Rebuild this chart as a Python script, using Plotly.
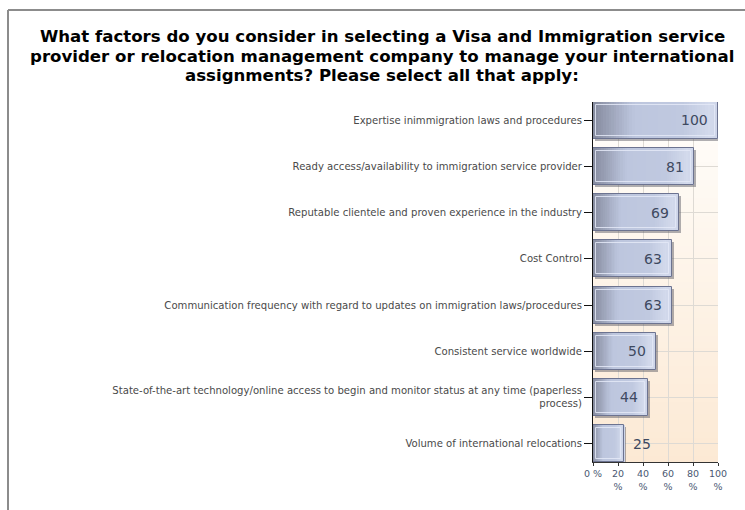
import plotly.graph_objects as go

# Survey results: share of respondents selecting each factor (%)
categories = [
    "Expertise inimmigration laws and procedures",
    "Ready access/availability to immigration service provider",
    "Reputable clientele and proven experience in the industry",
    "Cost Control",
    "Communication frequency with regard to updates on immigration laws/procedures",
    "Consistent service worldwide",
    "State-of-the-art technology/online access to begin and monitor status at any time (paperless<br>process)",
    "Volume of international relocations",
]
values = [100, 81, 69, 63, 63, 50, 44, 25]
x_tick_values = [0, 20, 40, 60, 80, 100]
x_tick_labels = ["0 %", "20<br>%", "40<br>%", "60<br>%", "80<br>%", "100<br>%"]

title_lines = [
    "What factors do you consider in selecting a Visa and Immigration service",
    "provider or relocation management company to manage your international",
    "assignments? Please select all that apply:",
]

W, H = 745, 510
ML, MR, MT, MB = 593, 27, 102, 48
PLOT_W = W - ML - MR
PLOT_H = H - MT - MB
BAR_W = 0.8
n = len(categories)
pos = list(range(n))

px_per_unit = PLOT_W / 100.0
px_per_cat = PLOT_H / (n - 1 + BAR_W)

FONT = "DejaVu Sans, Verdana, sans-serif"


def hex_to_rgb(h):
    h = h.lstrip("#")
    return tuple(int(h[i:i + 2], 16) for i in (0, 2, 4))


def lerp_color(stops, t):
    for (t0, c0), (t1, c1) in zip(stops, stops[1:]):
        if t0 <= t <= t1:
            a = 0 if t1 == t0 else (t - t0) / (t1 - t0)
            r0, g0, b0 = hex_to_rgb(c0)
            r1, g1, b1 = hex_to_rgb(c1)
            return "rgb(%d,%d,%d)" % (round(r0 + (r1 - r0) * a),
                                       round(g0 + (g1 - g0) * a),
                                       round(b0 + (b1 - b0) * a))
    return stops[-1][1]


bar_stops = [
    (0.0, "#858b9e"), (0.06, "#8f95a9"), (0.30, "#b8c1d9"),
    (0.34, "#bdc6de"), (0.72, "#c0c9e0"), (0.93, "#d3daec"), (1.0, "#cdd4e8"),
]


def px_x(px):
    return (px - ML) / PLOT_W


def px_y(py):
    return (H - MB - py) / PLOT_H


fig = go.Figure()

# drop shadow, shifted right and down by ~2px
sh_x = 2 / px_per_unit
sh_y = 2 / px_per_cat
fig.add_trace(go.Bar(
    y=pos, x=[v for v in values], base=[sh_x] * n, orientation="h",
    width=BAR_W, offset=-BAR_W / 2 + sh_y,
    marker=dict(color="rgba(80,80,90,0.45)", line=dict(width=0)),
    hoverinfo="skip", showlegend=False,
))

# horizontal gradient fill built from thin slices of each bar
N_SLICES = 48
for i in range(N_SLICES):
    f0, f1 = i / N_SLICES, (i + 1) / N_SLICES
    fig.add_trace(go.Bar(
        y=pos, x=[v * (f1 - f0) * 1.002 for v in values], base=[v * f0 for v in values],
        orientation="h", width=BAR_W,
        marker=dict(color=lerp_color(bar_stops, (f0 + f1) / 2), line=dict(width=0)),
        hoverinfo="skip", showlegend=False,
    ))

# inner highlight rim
inset_x = 3 / px_per_unit
inset_y = 3 / px_per_cat
fig.add_trace(go.Bar(
    y=pos, x=[v - 2 * inset_x for v in values], base=[inset_x] * n, orientation="h",
    width=BAR_W - 2 * inset_y,
    marker=dict(color="rgba(0,0,0,0)", line=dict(color="rgba(228,233,247,0.85)", width=1)),
    hoverinfo="skip", showlegend=False,
))

# bar outline
fig.add_trace(go.Bar(
    y=pos, x=values, orientation="h", width=BAR_W,
    marker=dict(color="rgba(0,0,0,0)", line=dict(color="#6c7390", width=1)),
    hovertemplate="%{x}%<extra></extra>", showlegend=False,
))

# value labels: inside the bar end, or just past it for short bars
annotations = []
for p, v in zip(pos, values):
    inside = v * px_per_unit > 45
    annotations.append(dict(
        x=v, y=p, xref="x", yref="y", text=str(v), showarrow=False,
        xanchor="right" if inside else "left", xshift=-8 if inside else 7,
        font=dict(family=FONT, size=14, color="#3e4960"),
    ))

# three-line bold heading, centred over the chart
for k, line in enumerate(title_lines):
    annotations.append(dict(
        x=px_x(382), y=px_y(37 + 19 * k), xref="paper", yref="paper",
        text="<b>%s</b>" % line, showarrow=False, xanchor="center", yanchor="middle",
        font=dict(family=FONT, size=16.6, color="#000000"),
    ))

# plot-area background: vertical gradient white -> peach
bg_stops = [(0.0, "#fce9d4"), (1.0, "#fffefc")]
shapes = []
N_BANDS = 60
for i in range(N_BANDS):
    y0, y1 = i / N_BANDS, (i + 1) / N_BANDS
    shapes.append(dict(
        type="rect", xref="x domain", yref="y domain", x0=0, x1=1, y0=y0, y1=y1 + 0.002,
        fillcolor=lerp_color(bg_stops, (y0 + y1) / 2), line=dict(width=0), layer="below",
    ))

# outer frame (top and left edges)
frame_col = "#8c8c8c"
shapes.append(dict(type="line", xref="paper", yref="paper",
                   x0=px_x(8), x1=px_x(760), y0=px_y(10), y1=px_y(10),
                   line=dict(color=frame_col, width=2), layer="above"))
shapes.append(dict(type="line", xref="paper", yref="paper",
                   x0=px_x(8), x1=px_x(8), y0=px_y(10), y1=px_y(530),
                   line=dict(color=frame_col, width=2), layer="above"))

fig.update_layout(
    width=W, height=H,
    margin=dict(l=ML, r=MR, t=MT, b=MB, pad=0),
    paper_bgcolor="white", plot_bgcolor="rgba(0,0,0,0)",
    barmode="overlay", bargap=0,
    font=dict(family=FONT),
    xaxis=dict(
        range=[0, 100], tickvals=x_tick_values, ticktext=x_tick_labels,
        showgrid=True, gridcolor="#dedad4", gridwidth=1,
        showline=True, linecolor="#333333", linewidth=1,
        ticks="outside", ticklen=3, tickcolor="#333333",
        tickfont=dict(size=9.5, color="#4a5872"), zeroline=False, fixedrange=True,
    ),
    yaxis=dict(
        range=[n - 1 + BAR_W / 2, -BAR_W / 2], tickvals=pos, ticktext=categories,
        showgrid=True, gridcolor="#dedad4", gridwidth=1,
        showline=True, linecolor="#111111", linewidth=1,
        ticks="outside", ticklen=8, tickcolor="#111111",
        tickfont=dict(size=10.1, color="#4a4a4a"), zeroline=False, fixedrange=True,
    ),
    annotations=annotations,
    shapes=shapes,
)

fig.write_html("out.html")
